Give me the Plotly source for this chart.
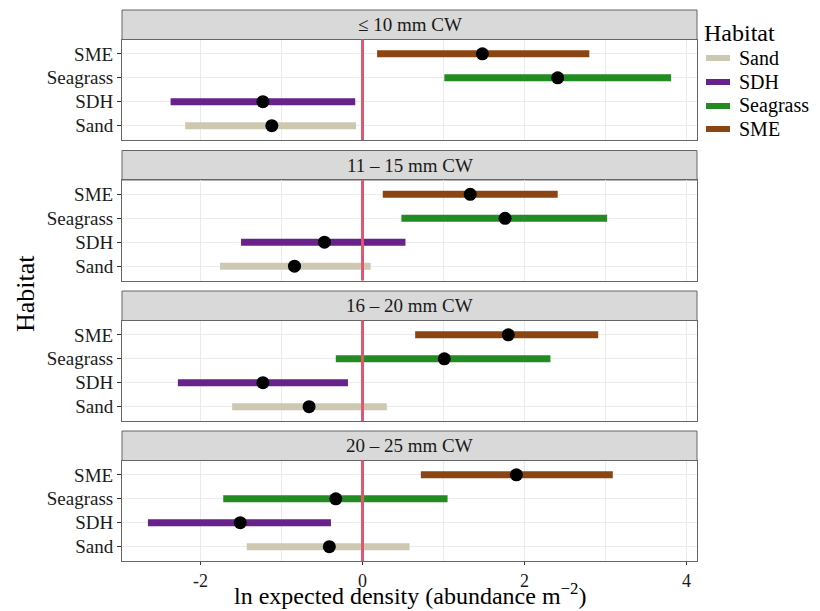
import plotly.graph_objects as go

W, H = 820, 611

panels = ["≤ 10 mm CW", "11 – 15 mm CW", "16 – 20 mm CW", "20 – 25 mm CW"]
habitats = ["Sand", "SDH", "Seagrass", "SME"]
colors = {"Sand": "#CDC8B1", "SDH": "#68228B", "Seagrass": "#228B22", "SME": "#8B4513"}

# per panel, values in habitat order: Sand, SDH, Seagrass, SME
est = [
    [-1.12, -1.23, 2.41, 1.48],
    [-0.84, -0.47, 1.76, 1.33],
    [-0.66, -1.23, 1.01, 1.80],
    [-0.41, -1.51, -0.33, 1.90],
]
lower = [
    [-2.19, -2.37, 1.01, 0.18],
    [-1.76, -1.50, 0.48, 0.25],
    [-1.61, -2.28, -0.33, 0.65],
    [-1.43, -2.65, -1.72, 0.72],
]
upper = [
    [-0.08, -0.09, 3.81, 2.80],
    [0.10, 0.53, 3.02, 2.41],
    [0.30, -0.18, 2.32, 2.91],
    [0.58, -0.39, 1.05, 3.09],
]
x_ticks = [-2, 0, 2, 4]
x_range = [-2.97, 4.13]
ref_x = 0

FONT = "Liberation Serif"

# layout geometry (pixels)
px_left, px_right = 122, 697
panel_tops = [10, 150.5, 291, 431]
strip_h = 29.5
plot_h = 100.5


def py(p):
    return 1 - p / H


def pxx(p):
    return p / W


fig = go.Figure()
shapes = []
annotations = []

for i, title in enumerate(panels):
    n = "" if i == 0 else str(i + 1)
    xa, ya = "x" + n, "y" + n
    for j, hab in enumerate(habitats):
        fig.add_trace(go.Scatter(
            x=[lower[i][j], upper[i][j]], y=[hab, hab], mode="lines",
            line=dict(color=colors[hab], width=7),
            name=hab, showlegend=False,
            xaxis=xa, yaxis=ya, hoverinfo="skip"))
    fig.add_trace(go.Scatter(
        x=est[i], y=habitats, mode="markers",
        marker=dict(color="black", size=13),
        showlegend=False, xaxis=xa, yaxis=ya))

    top = panel_tops[i]
    ptop = top + strip_h
    pbot = ptop + plot_h
    is_last = i == len(panels) - 1
    fig.layout["xaxis" + n] = dict(
        domain=[pxx(px_left), pxx(px_right)], anchor=ya, range=x_range,
        tickvals=x_ticks, ticktext=[str(t) for t in x_ticks],
        showticklabels=is_last, ticks="outside" if is_last else "",
        ticklen=3, tickcolor="#333333", automargin=False,
        showgrid=True, gridcolor="#EBEBEB", gridwidth=1,
        minor=dict(dtick=1, tick0=0, showgrid=True, gridcolor="#EBEBEB", gridwidth=0.6),
        zeroline=False, showline=True, mirror=True, linecolor="#666666", linewidth=1,
        tickfont=dict(family=FONT, size=18, color="#1a1a1a"),
        matches="x" if i > 0 else None,
    )
    fig.layout["yaxis" + n] = dict(
        domain=[py(pbot), py(ptop)], anchor=xa, type="category",
        categoryorder="array", categoryarray=habitats, range=[-0.6, 3.6],
        ticks="outside", ticklen=4, tickcolor="#333333", automargin=False,
        showgrid=True, gridcolor="#EBEBEB", gridwidth=1, zeroline=False,
        showline=True, mirror=True, linecolor="#666666", linewidth=1,
        tickfont=dict(family=FONT, size=19, color="#1a1a1a"),
    )
    # strip
    shapes.append(dict(type="rect", xref="paper", yref="paper",
                       x0=pxx(px_left), x1=pxx(px_right), y0=py(ptop), y1=py(top),
                       fillcolor="#D9D9D9", line=dict(color="#666666", width=1),
                       layer="below"))
    annotations.append(dict(text=title, xref="paper", yref="paper",
                            x=pxx((px_left + px_right) / 2), y=py(top + strip_h / 2),
                            showarrow=False, xanchor="center", yanchor="middle",
                            font=dict(family=FONT, size=19, color="#1a1a1a")))
    # zero reference line
    shapes.append(dict(type="line", xref=xa, yref=ya + " domain",
                       x0=ref_x, x1=ref_x, y0=0, y1=1,
                       line=dict(color="#E0566F", width=3), layer="above"))

# axis titles
annotations.append(dict(text="Habitat", xref="paper", yref="paper",
                        x=pxx(25), y=py(294), textangle=-90, showarrow=False,
                        xanchor="center", yanchor="middle",
                        font=dict(family=FONT, size=26, color="black")))
annotations.append(dict(text="ln expected density (abundance m<sup>−2</sup>)",
                        xref="paper", yref="paper", x=pxx(410), y=0,
                        showarrow=False, xanchor="center", yanchor="bottom",
                        font=dict(family=FONT, size=24, color="black")))

# legend (ggplot-style guide)
annotations.append(dict(text="Habitat", xref="paper", yref="paper",
                        x=pxx(702), y=py(33), showarrow=False,
                        xanchor="left", yanchor="middle",
                        font=dict(family=FONT, size=24, color="black")))
legend_rows = [58, 82, 106, 129]
for hab, ry in zip(habitats, legend_rows):
    shapes.append(dict(type="line", xref="paper", yref="paper",
                       x0=pxx(706), x1=pxx(730), y0=py(ry), y1=py(ry),
                       line=dict(color=colors[hab], width=6)))
    annotations.append(dict(text=hab, xref="paper", yref="paper",
                            x=pxx(737), y=py(ry), showarrow=False,
                            xanchor="left", yanchor="middle",
                            font=dict(family=FONT, size=20, color="black")))

fig.update_layout(
    width=W, height=H, margin=dict(l=0, r=0, t=0, b=0, autoexpand=False),
    paper_bgcolor="white", plot_bgcolor="white",
    shapes=shapes, annotations=annotations,
    showlegend=False,
)

fig.write_html(
    "out.html",
    config={"displayModeBar": False},
    post_script="document.body.style.margin='0';document.body.style.overflow='hidden';",
)
